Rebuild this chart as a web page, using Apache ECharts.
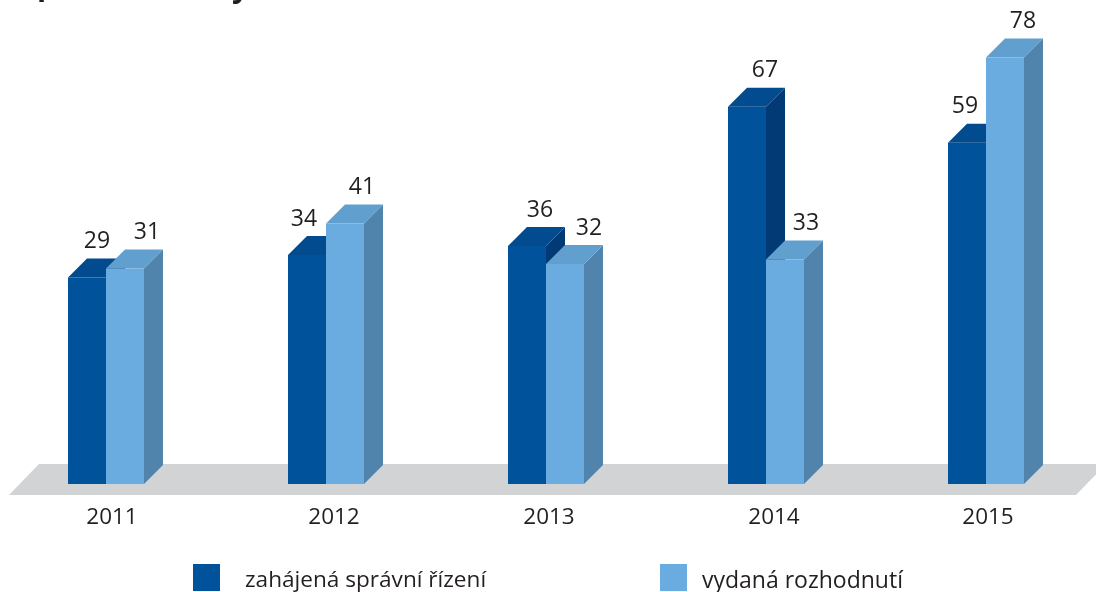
<!DOCTYPE html>
<html lang="cs">
<head>
	<meta charset="utf-8">
	<title>zahájená správní řízení a vydaná rozhodnutí</title>
	<script src="https://cdn.jsdelivr.net/npm/echarts@6/dist/echarts.min.js"></script>
	<style>
		html, body { margin: 0; padding: 0; background: #fff; overflow: hidden; }
		#main { width: 1096px; height: 592px; }
	</style>
</head>
<body>
	<div id="main"></div>
	<script type="text/javascript">
		// data
		var years = ['2011', '2012', '2013', '2014', '2015'];
		var zahajena = [29, 34, 36, 67, 59];
		var vydana = [31, 41, 32, 33, 78];
		var seriesNames = ['zahájená správní řízení', 'vydaná rozhodnutí'];

		// look of the fake 3d bars
		var font = '"Open Sans", "Noto Sans", sans-serif';
		var textColor = '#231f20';
		var barW = 38;
		var depth = 19;
		var darkColors = { front: '#00529b', top: '#034b8f', side: '#013a75' };
		var lightColors = { front: '#6aace0', top: '#619fce', side: '#5084ac' };
		// the value labels are not centred over the bars in the original
		var darkLabelShift = [10, -3, 13, 18, -2];
		var lightLabelShift = [22, 17, 24, 21, 18];
		var yearLabelShift = [6, 8, 3, 8, 2];

		function bar3d(side, colors, labelShift) {
			return function (params, api) {
				var i = api.value(0);
				var c = api.coord([i, api.value(1)]);
				var base = api.coord([i, -17]);
				var x0 = c[0] + (side < 0 ? -barW : 0);
				var x1 = x0 + barW;
				var top = c[1];
				var bottom = base[1];
				return {
					type: 'group',
					children: [
						{
							type: 'polygon',
							shape: { points: [[x1, top], [x1 + depth, top - depth], [x1 + depth, bottom - depth], [x1, bottom]] },
							style: { fill: colors.side }
						},
						{
							type: 'polygon',
							shape: { points: [[x0, top], [x0 + depth, top - depth], [x1 + depth, top - depth], [x1, top]] },
							style: { fill: colors.top }
						},
						{
							type: 'rect',
							shape: { x: x0, y: top, width: x1 - x0, height: bottom - top },
							style: { fill: colors.front }
						},
						{
							type: 'text',
							x: x0 + barW / 2 + labelShift[i],
							y: top - depth - 17,
							style: {
								text: String(api.value(1)),
								font: '23px ' + font,
								fill: textColor,
								align: 'center',
								verticalAlign: 'middle'
							}
						}
					]
				};
			};
		}

		function toData(values) {
			return values.map(function (v, i) { return [i, v]; });
		}

		var myChart = echarts.init(document.getElementById('main'));

		var option = {
			animation: false,
			grid: { left: -4, top: 35, width: 1100, height: 449, outerBoundsMode: 'none' },
			xAxis: {
				type: 'category',
				data: years,
				axisLine: { show: false },
				axisTick: { show: false },
				axisLabel: { show: false }
			},
			// the bars of the original do not start at zero
			yAxis: { type: 'value', min: -17, max: 83, show: false },
			graphic: [
				// floor under the bars
				{
					type: 'polygon',
					z: 0,
					shape: { points: [[39, 464], [1106, 464], [1076, 495], [9, 495]] },
					style: { fill: '#d1d3d4' }
				},
				// what is left of the heading, the page cuts it off at the top
				{ type: 'text', x: 37, y: -29, style: { text: 'p', font: 'bold 30px ' + font, fill: textColor } },
				{ type: 'text', x: 232, y: -27, style: { text: 'y', font: 'bold 30px ' + font, fill: textColor } },
				// year labels
				{
					type: 'group',
					children: years.map(function (y, i) {
						return {
							type: 'text',
							x: 106 + 220 * i + yearLabelShift[i],
							y: 518,
							style: { text: y, font: '22.5px ' + font, fill: textColor, align: 'center', verticalAlign: 'middle' }
						};
					})
				},
				// legend
				{ type: 'rect', shape: { x: 193, y: 564, width: 27, height: 27 }, style: { fill: darkColors.front } },
				{ type: 'text', x: 245, y: 581, style: { text: seriesNames[0], font: '22.6px ' + font, fill: textColor, verticalAlign: 'middle' } },
				{ type: 'rect', shape: { x: 660, y: 564, width: 27, height: 27 }, style: { fill: lightColors.front } },
				{ type: 'text', x: 702, y: 581, style: { text: seriesNames[1], font: '23px ' + font, fill: textColor, verticalAlign: 'middle' } }
			],
			series: [
				{
					name: seriesNames[0],
					type: 'custom',
					renderItem: bar3d(-1, darkColors, darkLabelShift),
					data: toData(zahajena),
					z: 2
				},
				{
					name: seriesNames[1],
					type: 'custom',
					renderItem: bar3d(1, lightColors, lightLabelShift),
					data: toData(vydana),
					z: 3
				}
			]
		};
		myChart.setOption(option);
	</script>
</body>
</html>
